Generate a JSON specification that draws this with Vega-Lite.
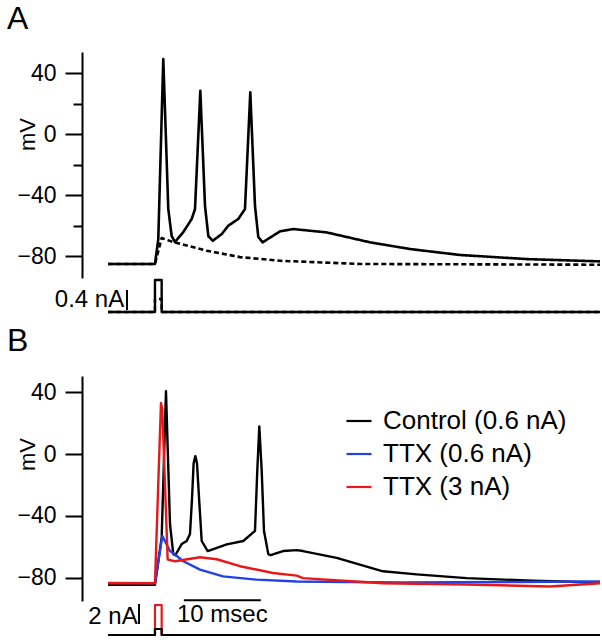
{
  "$schema": "https://vega.github.io/schema/vega-lite/v6.json",
  "padding": {"left": 7, "top": 3, "right": 0, "bottom": 0},
  "config": {"view": {"stroke": null}, "font": "Liberation Sans", "line": {"strokeJoin": "round", "strokeCap": "butt"}},
  "datasets": {
    "aV": [
      {"trace": "spike", "t": 0, "v": -85.2}, {"trace": "spike", "t": 6.10, "v": -85.2}, {"trace": "spike", "t": 6.53, "v": -68.9},
      {"trace": "spike", "t": 7.18, "v": 49.2}, {"trace": "spike", "t": 7.83, "v": -49.2}, {"trace": "spike", "t": 8.27, "v": -66.9},
      {"trace": "spike", "t": 8.70, "v": -70.8}, {"trace": "spike", "t": 9.78, "v": -64.3}, {"trace": "spike", "t": 10.87, "v": -55.7},
      {"trace": "spike", "t": 11.30, "v": -49.2}, {"trace": "spike", "t": 11.99, "v": 28.4}, {"trace": "spike", "t": 12.60, "v": -47.2},
      {"trace": "spike", "t": 13.03, "v": -66.9}, {"trace": "spike", "t": 13.60, "v": -70.0}, {"trace": "spike", "t": 14.77, "v": -65.6},
      {"trace": "spike", "t": 15.62, "v": -60.1}, {"trace": "spike", "t": 16.92, "v": -55.7}, {"trace": "spike", "t": 17.79, "v": -49.2},
      {"trace": "spike", "t": 18.48, "v": 27.3}, {"trace": "spike", "t": 19.09, "v": -47.0}, {"trace": "spike", "t": 19.52, "v": -67.5},
      {"trace": "spike", "t": 20.09, "v": -71.0}, {"trace": "spike", "t": 22.34, "v": -63.8}, {"trace": "spike", "t": 24.06, "v": -62.3},
      {"trace": "spike", "t": 28.40, "v": -64.5}, {"trace": "spike", "t": 34.03, "v": -71.0}, {"trace": "spike", "t": 39.22, "v": -75.4},
      {"trace": "spike", "t": 45.71, "v": -79.3}, {"trace": "spike", "t": 54.38, "v": -82.0}, {"trace": "spike", "t": 63.9, "v": -83.5},
      {"trace": "sub", "t": 0, "v": -85.2}, {"trace": "sub", "t": 6.10, "v": -85.2}, {"trace": "sub", "t": 6.97, "v": -68.2},
      {"trace": "sub", "t": 8.44, "v": -70.8}, {"trace": "sub", "t": 12.82, "v": -76.5}, {"trace": "sub", "t": 17.14, "v": -80.7},
      {"trace": "sub", "t": 22.34, "v": -83.1}, {"trace": "sub", "t": 32.73, "v": -85.2}, {"trace": "sub", "t": 63.9, "v": -85.7}
    ],
    "aI": [
      {"trace": "sub", "i": 0, "t": 0, "c": 0}, {"trace": "sub", "i": 1, "t": 6.1, "c": 0}, {"trace": "sub", "i": 2, "t": 6.1, "c": 0.26},
      {"trace": "sub", "i": 3, "t": 6.97, "c": 0.26}, {"trace": "sub", "i": 4, "t": 6.97, "c": 0}, {"trace": "sub", "i": 5, "t": 63.9, "c": 0},
      {"trace": "spike", "i": 0, "t": 0, "c": 0}, {"trace": "spike", "i": 1, "t": 6.1, "c": 0}, {"trace": "spike", "i": 2, "t": 6.1, "c": 0.64},
      {"trace": "spike", "i": 3, "t": 6.97, "c": 0.64}, {"trace": "spike", "i": 4, "t": 6.97, "c": 0}, {"trace": "spike", "i": 5, "t": 63.9, "c": 0}
    ],
    "aBar": [{"t": 2.47, "lo": 0.04, "hi": 0.44, "tx": 2.1, "ty": 0.1, "label": "0.4 nA"}],
    "bV": [
      {"series": "Control (0.6 nA)", "t": 0, "v": -84.5}, {"series": "Control (0.6 nA)", "t": 6.10, "v": -84.5},
      {"series": "Control (0.6 nA)", "t": 6.97, "v": -54.0}, {"series": "Control (0.6 nA)", "t": 7.53, "v": 40.7},
      {"series": "Control (0.6 nA)", "t": 8.05, "v": -45.1}, {"series": "Control (0.6 nA)", "t": 8.48, "v": -64.7},
      {"series": "Control (0.6 nA)", "t": 8.74, "v": -65.4}, {"series": "Control (0.6 nA)", "t": 9.57, "v": -58.2},
      {"series": "Control (0.6 nA)", "t": 10.22, "v": -56.2}, {"series": "Control (0.6 nA)", "t": 10.65, "v": -51.6},
      {"series": "Control (0.6 nA)", "t": 10.92, "v": -28.0}, {"series": "Control (0.6 nA)", "t": 11.12, "v": -6.0},
      {"series": "Control (0.6 nA)", "t": 11.34, "v": -1.3}, {"series": "Control (0.6 nA)", "t": 11.56, "v": -6.0},
      {"series": "Control (0.6 nA)", "t": 11.82, "v": -28.0}, {"series": "Control (0.6 nA)", "t": 12.17, "v": -56.2},
      {"series": "Control (0.6 nA)", "t": 12.95, "v": -62.7}, {"series": "Control (0.6 nA)", "t": 15.42, "v": -58.4},
      {"series": "Control (0.6 nA)", "t": 17.57, "v": -56.2}, {"series": "Control (0.6 nA)", "t": 19.09, "v": -49.7},
      {"series": "Control (0.6 nA)", "t": 19.39, "v": -10.5}, {"series": "Control (0.6 nA)", "t": 19.65, "v": 17.8},
      {"series": "Control (0.6 nA)", "t": 19.96, "v": -10.5}, {"series": "Control (0.6 nA)", "t": 20.26, "v": -49.7},
      {"series": "Control (0.6 nA)", "t": 20.82, "v": -64.7}, {"series": "Control (0.6 nA)", "t": 21.13, "v": -65.4},
      {"series": "Control (0.6 nA)", "t": 22.73, "v": -62.7}, {"series": "Control (0.6 nA)", "t": 24.51, "v": -62.1},
      {"series": "Control (0.6 nA)", "t": 25.32, "v": -62.7}, {"series": "Control (0.6 nA)", "t": 29.70, "v": -67.1},
      {"series": "Control (0.6 nA)", "t": 35.71, "v": -75.8}, {"series": "Control (0.6 nA)", "t": 40.09, "v": -77.8},
      {"series": "Control (0.6 nA)", "t": 46.58, "v": -80.2}, {"series": "Control (0.6 nA)", "t": 55.19, "v": -81.9},
      {"series": "Control (0.6 nA)", "t": 63.9, "v": -83.0},
      {"series": "TTX (0.6 nA)", "t": 0, "v": -83.3}, {"series": "TTX (0.6 nA)", "t": 6.10, "v": -83.5},
      {"series": "TTX (0.6 nA)", "t": 7.05, "v": -52.9}, {"series": "TTX (0.6 nA)", "t": 8.05, "v": -62.7},
      {"series": "TTX (0.6 nA)", "t": 8.70, "v": -64.9}, {"series": "TTX (0.6 nA)", "t": 9.78, "v": -69.3},
      {"series": "TTX (0.6 nA)", "t": 11.95, "v": -74.7}, {"series": "TTX (0.6 nA)", "t": 14.94, "v": -79.1},
      {"series": "TTX (0.6 nA)", "t": 19.31, "v": -81.2}, {"series": "TTX (0.6 nA)", "t": 24.51, "v": -82.4},
      {"series": "TTX (0.6 nA)", "t": 37.92, "v": -83.0}, {"series": "TTX (0.6 nA)", "t": 63.9, "v": -82.4},
      {"series": "TTX (3 nA)", "t": 0, "v": -83.5}, {"series": "TTX (3 nA)", "t": 6.10, "v": -83.5},
      {"series": "TTX (3 nA)", "t": 6.88, "v": 33.1}, {"series": "TTX (3 nA)", "t": 7.05, "v": 28.8},
      {"series": "TTX (3 nA)", "t": 7.75, "v": -68.2}, {"series": "TTX (3 nA)", "t": 8.70, "v": -69.3},
      {"series": "TTX (3 nA)", "t": 11.95, "v": -66.7}, {"series": "TTX (3 nA)", "t": 14.12, "v": -68.0},
      {"series": "TTX (3 nA)", "t": 17.14, "v": -72.5}, {"series": "TTX (3 nA)", "t": 21.43, "v": -76.9},
      {"series": "TTX (3 nA)", "t": 24.51, "v": -78.6}, {"series": "TTX (3 nA)", "t": 25.32, "v": -80.2},
      {"series": "TTX (3 nA)", "t": 35.71, "v": -83.5}, {"series": "TTX (3 nA)", "t": 46.49, "v": -84.3},
      {"series": "TTX (3 nA)", "t": 57.40, "v": -85.6}, {"series": "TTX (3 nA)", "t": 63.9, "v": -83.5}
    ],
    "bI": [
      {"series": "TTX (3 nA)", "i": 0, "t": 0, "c": 0}, {"series": "TTX (3 nA)", "i": 1, "t": 6.1, "c": 0},
      {"series": "TTX (3 nA)", "i": 2, "t": 6.1, "c": 3}, {"series": "TTX (3 nA)", "i": 3, "t": 6.97, "c": 3},
      {"series": "TTX (3 nA)", "i": 4, "t": 6.97, "c": 0}, {"series": "TTX (3 nA)", "i": 5, "t": 63.9, "c": 0},
      {"series": "Control (0.6 nA)", "i": 0, "t": 0, "c": 0}, {"series": "Control (0.6 nA)", "i": 1, "t": 6.1, "c": 0},
      {"series": "Control (0.6 nA)", "i": 2, "t": 6.1, "c": 0.6}, {"series": "Control (0.6 nA)", "i": 3, "t": 6.97, "c": 0.6},
      {"series": "Control (0.6 nA)", "i": 4, "t": 6.97, "c": 0}, {"series": "Control (0.6 nA)", "i": 5, "t": 63.9, "c": 0}
    ],
    "bBar": [{"t": 4.03, "lo": 1.1, "hi": 3.1, "tx": 3.85, "ty": 1.1, "label": "2 nA"}],
    "timeBar": [{"t0": 9.85, "t1": 19.85, "v": -94.5, "tx": 14.85, "label": "10 msec"}]
  },
  "resolve": {"scale": {"color": "independent", "strokeDash": "independent"}, "legend": {"color": "independent"}},
  "spacing": 10,
  "vconcat": [
    {
      "spacing": 0,
      "resolve": {"scale": {"color": "independent"}, "legend": {"color": "independent"}},
      "vconcat": [
        {
          "width": 518, "height": 226,
          "title": {"text": "A", "anchor": "start", "frame": "group", "dx": -75, "offset": 16, "baseline": "top", "fontSize": 32, "fontWeight": "normal", "font": "Liberation Sans", "color": "black"},
          "data": {"name": "aV"},
          "mark": {"type": "line", "strokeWidth": 2.6, "color": "black"},
          "encoding": {
            "x": {"field": "t", "type": "quantitative", "scale": {"domain": [-3.377, 63.9], "nice": false, "zero": false}, "axis": null},
            "y": {"field": "v", "type": "quantitative", "scale": {"domain": [-94.4, 53.8], "nice": false, "zero": false},
              "axis": {"values": [-80, -60, -40, -20, 0, 20, 40], "title": "mV", "titleFont": "Liberation Sans", "titleFontSize": 22, "titleFontWeight": "normal", "titleColor": "black",
                "titleX": -43, "titleY": 82, "titleAlign": "center",
                "labelExpr": "datum.value % 40 === 0 ? datum.label : ''", "labelFont": "Liberation Sans", "labelFontSize": 23, "labelColor": "black", "labelPadding": 9,
                "domain": true, "tickSize": {"condition": {"test": "datum.value % 40 === 0", "value": 17}, "value": 9}, "tickWidth": 2, "tickColor": "black", "domainColor": "black", "domainWidth": 2, "grid": false}},
            "strokeDash": {"field": "trace", "type": "nominal", "scale": {"domain": ["spike", "sub"], "range": [[1, 0], [5, 3]]}, "legend": null}
          }
        },
        {
          "width": 518, "height": 36,
          "layer": [
            {
              "data": {"name": "aI"},
              "mark": {"type": "line", "strokeWidth": 2.4, "color": "black"},
              "encoding": {
                "x": {"field": "t", "type": "quantitative", "scale": {"domain": [-3.377, 63.9], "nice": false, "zero": false}, "axis": null},
                "y": {"field": "c", "type": "quantitative", "scale": {"domain": [-0.06, 0.66], "nice": false, "zero": false}, "axis": null},
                "order": {"field": "i", "type": "quantitative"},
                "strokeDash": {"field": "trace", "type": "nominal", "scale": {"domain": ["spike", "sub"], "range": [[1, 0], [5, 3]]}, "legend": null}
              }
            },
            {
              "data": {"name": "aBar"},
              "mark": {"type": "rule", "strokeWidth": 2, "color": "black"},
              "encoding": {
                "x": {"field": "t", "type": "quantitative"},
                "y": {"field": "lo", "type": "quantitative"},
                "y2": {"field": "hi"}
              }
            },
            {
              "data": {"name": "aBar"},
              "mark": {"type": "text", "align": "right", "baseline": "alphabetic", "fontSize": 24, "font": "Liberation Sans", "color": "black"},
              "encoding": {
                "x": {"field": "tx", "type": "quantitative"},
                "y": {"field": "ty", "type": "quantitative"},
                "text": {"field": "label"}
              }
            }
          ]
        }
      ]
    },
    {
      "spacing": 0,
      "resolve": {"scale": {"color": "independent"}, "legend": {"color": "independent"}},
      "vconcat": [
        {
          "width": 518, "height": 225,
          "title": {"text": "B", "anchor": "start", "frame": "group", "dx": -75, "offset": 18, "baseline": "top", "fontSize": 32, "fontWeight": "normal", "font": "Liberation Sans", "color": "black"},
          "layer": [
            {
              "data": {"name": "bV"},
              "mark": {"type": "line", "strokeWidth": 2.4},
              "encoding": {
                "x": {"field": "t", "type": "quantitative", "scale": {"domain": [-3.377, 63.9], "nice": false, "zero": false}, "axis": null},
                "y": {"field": "v", "type": "quantitative", "scale": {"domain": [-95, 50.5], "nice": false, "zero": false},
                  "axis": {"values": [-80, -60, -40, -20, 0, 20, 40], "title": "mV", "titleFont": "Liberation Sans", "titleFontSize": 22, "titleFontWeight": "normal", "titleColor": "black",
                    "titleX": -43, "titleY": 78, "titleAlign": "center",
                    "labelExpr": "datum.value % 40 === 0 ? datum.label : ''", "labelFont": "Liberation Sans", "labelFontSize": 23, "labelColor": "black", "labelPadding": 9,
                    "domain": true, "tickSize": {"condition": {"test": "datum.value % 40 === 0", "value": 17}, "value": 9}, "tickWidth": 2, "tickColor": "black", "domainColor": "black", "domainWidth": 2, "grid": false}},
                "color": {"field": "series", "type": "nominal", "sort": null,
                  "scale": {"domain": ["Control (0.6 nA)", "TTX (0.6 nA)", "TTX (3 nA)"], "range": ["#000000", "#2040e8", "#e81818"]},
                  "legend": {"orient": "none", "legendX": 263, "legendY": 31, "title": null, "symbolType": "stroke", "symbolSize": 625, "symbolStrokeWidth": 2.2,
                    "labelFont": "Liberation Sans", "labelFontSize": 26, "labelColor": "black", "labelOffset": 10, "rowPadding": 6, "padding": 0, "labelLimit": 400}}
              }
            },
            {
              "data": {"name": "timeBar"},
              "mark": {"type": "rule", "strokeWidth": 2, "color": "black"},
              "encoding": {
                "x": {"field": "t0", "type": "quantitative"},
                "x2": {"field": "t1"},
                "y": {"field": "v", "type": "quantitative"}
              }
            }
          ]
        },
        {
          "width": 518, "height": 36,
          "layer": [
            {
              "data": {"name": "bI"},
              "mark": {"type": "line", "strokeWidth": 2.2},
              "encoding": {
                "x": {"field": "t", "type": "quantitative", "scale": {"domain": [-3.377, 63.9], "nice": false, "zero": false}, "axis": null},
                "y": {"field": "c", "type": "quantitative", "scale": {"domain": [-0.4, 3.2], "nice": false, "zero": false}, "axis": null},
                "order": {"field": "i", "type": "quantitative"},
                "color": {"field": "series", "type": "nominal", "sort": null,
                  "scale": {"domain": ["Control (0.6 nA)", "TTX (0.6 nA)", "TTX (3 nA)"], "range": ["#000000", "#2040e8", "#e81818"]}, "legend": null}
              }
            },
            {
              "data": {"name": "bBar"},
              "mark": {"type": "rule", "strokeWidth": 2, "color": "black"},
              "encoding": {
                "x": {"field": "t", "type": "quantitative"},
                "y": {"field": "lo", "type": "quantitative"},
                "y2": {"field": "hi"}
              }
            },
            {
              "data": {"name": "bBar"},
              "mark": {"type": "text", "align": "right", "baseline": "alphabetic", "fontSize": 24, "font": "Liberation Sans", "color": "black"},
              "encoding": {
                "x": {"field": "tx", "type": "quantitative"},
                "y": {"field": "ty", "type": "quantitative"},
                "text": {"field": "label"}
              }
            },
            {
              "data": {"name": "timeBar"},
              "mark": {"type": "text", "align": "center", "baseline": "alphabetic", "fontSize": 24, "font": "Liberation Sans", "color": "black"},
              "encoding": {
                "x": {"field": "tx", "type": "quantitative"},
                "y": {"datum": 1.3, "type": "quantitative"},
                "text": {"field": "label"}
              }
            }
          ]
        }
      ]
    }
  ]
}
